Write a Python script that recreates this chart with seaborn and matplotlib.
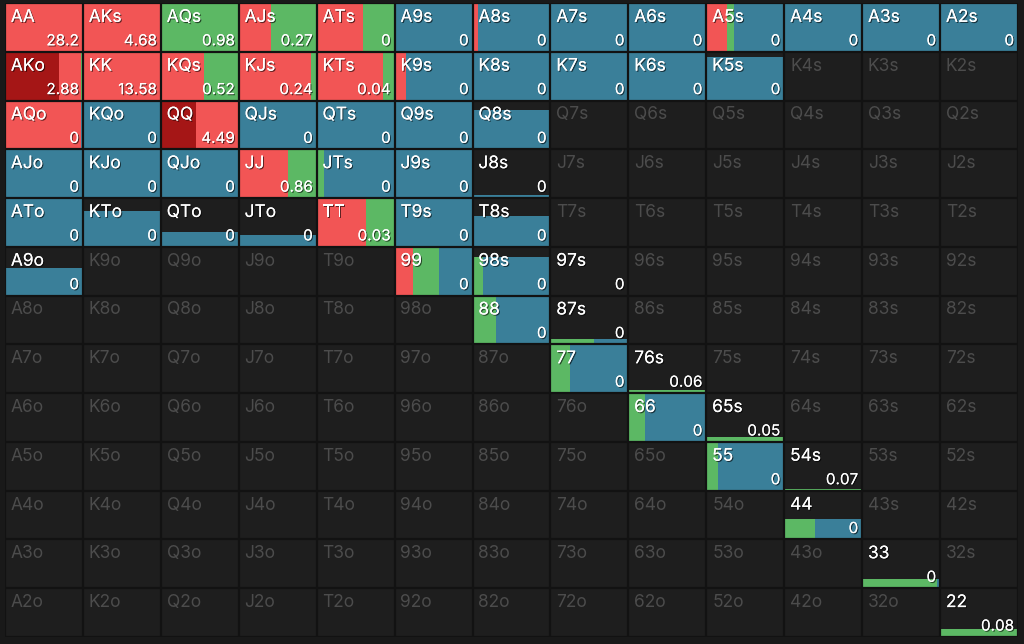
import numpy as np
import pandas as pd
import matplotlib
matplotlib.use("Agg")
import matplotlib.pyplot as plt
import matplotlib.patheffects as pe
import seaborn as sns

# ---------------- data ----------------
ranks = ["A", "K", "Q", "J", "T", "9", "8", "7", "6", "5", "4", "3", "2"]

# hands in range: (row, col) -> weight (bar height), allin, raise, call fractions (rest = fold), EV label
hand_rows = [0, 0, 0, 0, 0, 0, 0, 0, 0, 0, 0, 0, 0,
             1, 1, 1, 1, 1, 1, 1, 1, 1, 1,
             2, 2, 2, 2, 2, 2, 2,
             3, 3, 3, 3, 3, 3, 3,
             4, 4, 4, 4, 4, 4, 4,
             5, 5, 5, 5,
             6, 6,
             7, 7,
             8, 8,
             9, 9,
             10,
             11,
             12]
hand_cols = [0, 1, 2, 3, 4, 5, 6, 7, 8, 9, 10, 11, 12,
             0, 1, 2, 3, 4, 5, 6, 7, 8, 9,
             0, 1, 2, 3, 4, 5, 6,
             0, 1, 2, 3, 4, 5, 6,
             0, 1, 2, 3, 4, 5, 6,
             0, 5, 6, 7,
             6, 7,
             7, 8,
             8, 9,
             9, 10,
             10,
             11,
             12]
weights = [1, 1, 1, 1, 1, 1, 1, 1, 1, 1, 1, 1, 1,
           1, 1, 1, 1, 1, 1, 1, 1, 1, 0.90,
           1, 1, 1, 1, 1, 1, 0.80,
           1, 1, 1, 1, 1, 1, 0.07,
           1, 0.73, 0.30, 0.25, 1, 1, 0.64,
           0.57, 1, 0.79, 0.0,
           1, 0.12,
           1, 0.06,
           1, 0.10,
           1, 0.035,
           0.42,
           0.18,
           0.17]
allin_frac = [0, 0, 0, 0, 0, 0, 0, 0, 0, 0, 0, 0, 0,
              0.69, 0, 0, 0, 0, 0, 0, 0, 0, 0,
              0, 0, 0.45, 0, 0, 0, 0,
              0, 0, 0, 0, 0, 0, 0,
              0, 0, 0, 0, 0, 0, 0,
              0, 0, 0, 0,
              0, 0,
              0, 0,
              0, 0,
              0, 0,
              0,
              0,
              0]
raise_frac = [1, 1, 0, 0.42, 0.60, 0, 0.065, 0, 0, 0.26, 0, 0, 0,
              0.28, 1, 0.56, 0.93, 0.85, 0.14, 0, 0, 0, 0,
              0.98, 0, 0.55, 0, 0, 0, 0,
              0, 0, 0, 0.63, 0, 0, 0,
              0, 0, 0, 0, 0.63, 0, 0,
              0, 0.24, 0, 0,
              0.02, 0,
              0, 0,
              0, 0,
              0, 0,
              0,
              0,
              0]
call_frac = [0, 0, 1, 0.58, 0.39, 0, 0, 0, 0, 0.09, 0, 0, 0,
             0.03, 0, 0.44, 0.07, 0.15, 0, 0, 0, 0, 0,
             0, 0, 0, 0, 0, 0, 0,
             0, 0, 0, 0.37, 0.09, 0, 0,
             0, 0, 0, 0, 0.37, 0.02, 0,
             0, 0.33, 0.14, 0,
             0.28, 0.56,
             0.25, 1,
             0.21, 1,
             0.15, 1,
             0.40,
             0.96,
             1]
ev_labels = ["28.2", "4.68", "0.98", "0.27", "0", "0", "0", "0", "0", "0", "0", "0", "0",
             "2.88", "13.58", "0.52", "0.24", "0.04", "0", "0", "0", "0", "0",
             "0", "0", "4.49", "0", "0", "0", "0",
             "0", "0", "0", "0.86", "0", "0", "0",
             "0", "0", "0", "0", "0.03", "0", "0",
             "0", "0", "0", "0",
             "0", "0",
             "0", "0.06",
             "0", "0.05",
             "0", "0.07",
             "0",
             "0",
             "0.08"]

# ---------------- style ----------------
BG = "#1e1e1e"
GRID = "#121212"
C_ALLIN = "#a51616"
C_RAISE = "#f25555"
C_CALL = "#5cb864"
C_FOLD = "#3a7f99"
DIM = "#4c4c4c"

sns.set_theme(style="dark")
plt.rcParams["font.family"] = ["Inter", "DejaVu Sans"]

def hand_name(r, c):
    if r == c:
        return ranks[r] + ranks[c]
    if c > r:
        return ranks[r] + ranks[c] + "s"
    return ranks[c] + ranks[r] + "o"

fig = plt.figure(figsize=(10.24, 6.44), dpi=100, facecolor="#191919")
ax = fig.add_axes([5 / 1024, (644 - 637) / 644, 1013 / 1024, 634 / 644])

bg = pd.DataFrame(np.zeros((13, 13)), index=ranks, columns=ranks)
sns.heatmap(bg, ax=ax, cmap=matplotlib.colors.ListedColormap([BG]), cbar=False,
            xticklabels=False, yticklabels=False, linewidths=0)

in_range = set()
shadow = [pe.withSimplePatchShadow(offset=(0.8, -0.8), shadow_rgbFace="black", alpha=0.6), pe.Normal()]

for i in range(len(hand_rows)):
    r, c, h = hand_rows[i], hand_cols[i], weights[i]
    in_range.add((r, c))
    left = c
    for frac, col in ((allin_frac[i], C_ALLIN), (raise_frac[i], C_RAISE),
                      (call_frac[i], C_CALL)):
        if frac > 0:
            ax.bar(left, -h, width=frac, bottom=r + 1, align="edge", color=col,
                   linewidth=0, zorder=2)
            left += frac
    rest = c + 1 - left
    if rest > 0.001 and h > 0:
        ax.bar(left, -h, width=rest, bottom=r + 1, align="edge", color=C_FOLD,
               linewidth=0, zorder=2)
    ax.text(c + 0.95, r + 0.93, ev_labels[i], ha="right", va="bottom", fontsize=11,
            color="white", zorder=5, path_effects=shadow)

for r in range(13):
    for c in range(13):
        active = (r, c) in in_range
        ax.text(c + 0.075, r + 0.12, hand_name(r, c), ha="left", va="top", fontsize=12.5,
                color="white" if active else DIM, zorder=5,
                path_effects=shadow if active else None)

for k in range(14):
    ax.axhline(k, color=GRID, lw=1.6, zorder=4)
    ax.axvline(k, color=GRID, lw=1.6, zorder=4)

ax.set_xlim(0, 13)
ax.set_ylim(13, 0)
for s in ax.spines.values():
    s.set_visible(False)

fig.savefig("out.png", dpi=100, facecolor=fig.get_facecolor())
